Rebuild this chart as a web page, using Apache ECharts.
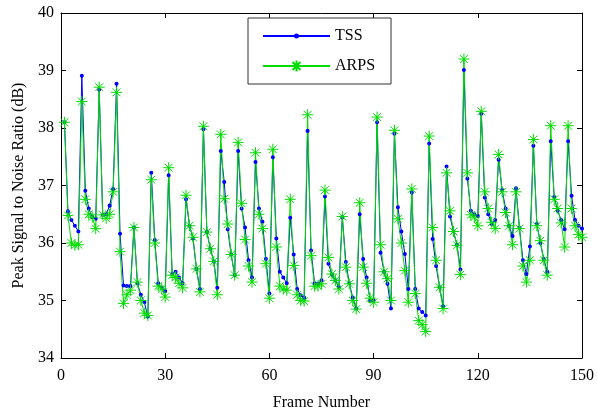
<!DOCTYPE html>
<html>
<head>
<meta charset="utf-8">
<script src="https://cdn.jsdelivr.net/npm/echarts@6/dist/echarts.min.js"></script>
<style>html,body{margin:0;padding:0;background:#fff;}#c{width:597px;height:416px;}</style>
</head>
<body>
<div id="c"></div>
<script>
var xTicks = [0, 30, 60, 90, 120, 150];
var yTicks = [34, 35, 36, 37, 38, 39, 40];
var seriesNames = ['TSS', 'ARPS'];
var tss = [
38.10,36.55,36.40,36.30,36.20,38.91,36.91,36.60,36.45,36.42,
38.67,36.49,36.50,36.65,36.94,38.77,36.16,35.26,35.25,35.25,
36.27,35.30,35.10,34.97,34.72,37.22,36.05,35.30,35.22,35.16,
37.18,35.46,35.50,35.40,35.30,36.76,36.30,36.08,35.55,35.20,
37.98,36.19,35.90,35.68,35.22,37.60,37.06,36.24,35.80,35.44,
37.60,36.60,36.27,35.70,35.40,37.41,36.60,36.37,35.72,35.12,
37.49,36.08,35.50,35.40,35.30,36.44,35.80,35.20,35.09,35.05,
37.95,35.87,35.30,35.29,35.35,36.81,35.64,35.45,35.35,35.23,
36.45,35.67,35.30,35.05,34.86,36.50,35.72,35.40,35.00,35.00,
38.10,35.83,35.50,35.29,34.86,37.90,36.62,36.20,35.81,35.20,
36.88,35.20,34.86,34.80,34.74,37.73,36.07,35.60,35.23,34.90,
37.33,36.46,36.20,35.97,35.54,39.01,37.12,36.56,36.50,36.47,
38.25,36.79,36.50,36.33,36.40,37.45,36.92,36.60,36.30,36.12,
36.95,36.26,35.70,35.46,35.94,37.69,36.33,36.00,35.72,35.50,
37.77,36.80,36.56,36.40,36.24,37.77,36.82,36.40,36.30,36.25
];
var arps = [
38.10,36.48,36.00,35.96,35.97,38.46,36.76,36.50,36.45,36.25,
38.71,36.49,36.43,36.50,36.89,38.62,35.85,34.95,35.10,35.18,
36.27,35.32,35.00,34.78,34.74,37.10,36.00,35.25,35.20,35.06,
37.31,35.44,35.40,35.30,35.22,36.83,36.30,36.10,35.55,35.15,
38.03,36.19,35.90,35.68,35.10,37.89,36.77,36.33,35.80,35.44,
37.75,36.69,36.06,35.60,35.32,37.57,36.50,36.25,35.64,35.04,
37.63,35.93,35.25,35.20,35.18,36.76,35.61,35.10,35.00,34.99,
38.23,35.78,35.25,35.25,35.29,36.92,35.75,35.46,35.35,35.20,
36.46,35.58,35.29,35.00,34.85,36.70,35.58,35.30,35.04,34.97,
38.19,35.97,35.50,35.38,35.00,37.96,36.42,36.00,35.52,34.97,
36.94,35.12,34.65,34.58,34.46,37.86,36.27,35.70,35.23,34.86,
37.22,36.56,36.20,35.96,35.45,39.20,37.22,36.49,36.45,36.30,
38.29,36.89,36.60,36.36,36.25,37.54,36.89,36.53,36.30,35.97,
36.89,36.25,35.60,35.32,35.70,37.80,36.30,36.04,35.70,35.44,
38.04,36.76,36.60,36.35,35.93,38.04,36.60,36.30,36.15,36.10
];

function pairs(arr) {
  var out = [];
  for (var i = 0; i < arr.length; i++) out.push([i + 1, arr[i]]);
  return out;
}

var FONT = '"Liberation Serif", "Times New Roman", serif';
var STAR = 'path://M0,-10L0,10M-10,0L10,0M-7.07,-7.07L7.07,7.07M-7.07,7.07L7.07,-7.07';
// small dot inside a larger (invisible) bounding box
var DOT = 'path://M-10,-10L-9.99,-10L-10,-10ZM10,10L9.99,10L10,10ZM-4.5,0A4.5,4.5,0,1,0,4.5,0A4.5,4.5,0,1,0,-4.5,0Z';
var chart = echarts.init(document.getElementById('c'), null, {renderer: 'canvas'});

function xAxisCfg(pos, showLabels) {
  return {
    type: 'value', position: pos, min: xTicks[0], max: xTicks[xTicks.length - 1], interval: 30,
    axisLine: {show: true, onZero: false, lineStyle: {color: '#000', width: 1}},
    axisTick: {show: true, inside: true, length: 5, lineStyle: {color: '#000'}},
    axisLabel: {show: showLabels, color: '#000', fontFamily: FONT, fontSize: 16, margin: 10},
    splitLine: {show: false},
    name: showLabels ? 'Frame Number' : '', nameLocation: 'middle', nameGap: 37,
    nameTextStyle: {color: '#000', fontFamily: FONT, fontSize: 16}
  };
}
function yAxisCfg(pos, showLabels) {
  return {
    type: 'value', position: pos, min: yTicks[0], max: yTicks[yTicks.length - 1], interval: 1,
    axisLine: {show: true, onZero: false, lineStyle: {color: '#000', width: 1}},
    axisTick: {show: true, inside: true, length: 5, lineStyle: {color: '#000'}},
    axisLabel: {show: showLabels, color: '#000', fontFamily: FONT, fontSize: 16, margin: 7},
    splitLine: {show: false},
    name: showLabels ? 'Peak Signal to Noise Ratio (dB)' : '', nameLocation: 'middle', nameGap: 28,
    nameTextStyle: {color: '#000', fontFamily: FONT, fontSize: 16}
  };
}

chart.setOption({
  animation: false,
  backgroundColor: '#fff',
  grid: {left: 61, right: 13, top: 13, bottom: 55},
  xAxis: [xAxisCfg('bottom', true), xAxisCfg('top', false)],
  yAxis: [yAxisCfg('left', true), yAxisCfg('right', false)],
  legend: {
    left: 248, top: 18, orient: 'vertical',
    backgroundColor: '#fff', borderColor: '#333', borderWidth: 1,
    padding: [10, 16, 10, 14], itemGap: 14, itemWidth: 67, itemHeight: 14,
    textStyle: {color: '#000', fontFamily: FONT, fontSize: 16},
    data: seriesNames
  },
  series: [
    {
      name: seriesNames[0], type: 'line', data: pairs(tss),
      symbol: DOT, symbolSize: 9, showAllSymbol: true,
      lineStyle: {color: '#0000ff', width: 1},
      itemStyle: {color: '#0000ff', borderWidth: 0}
    },
    {
      name: seriesNames[1], type: 'line', data: pairs(arps),
      symbol: STAR, symbolSize: 11, showAllSymbol: true,
      lineStyle: {color: '#00dd00', width: 1},
      itemStyle: {color: '#00dd00', borderColor: '#00dd00', borderWidth: 1}
    }
  ]
});
</script>
</body>
</html>
